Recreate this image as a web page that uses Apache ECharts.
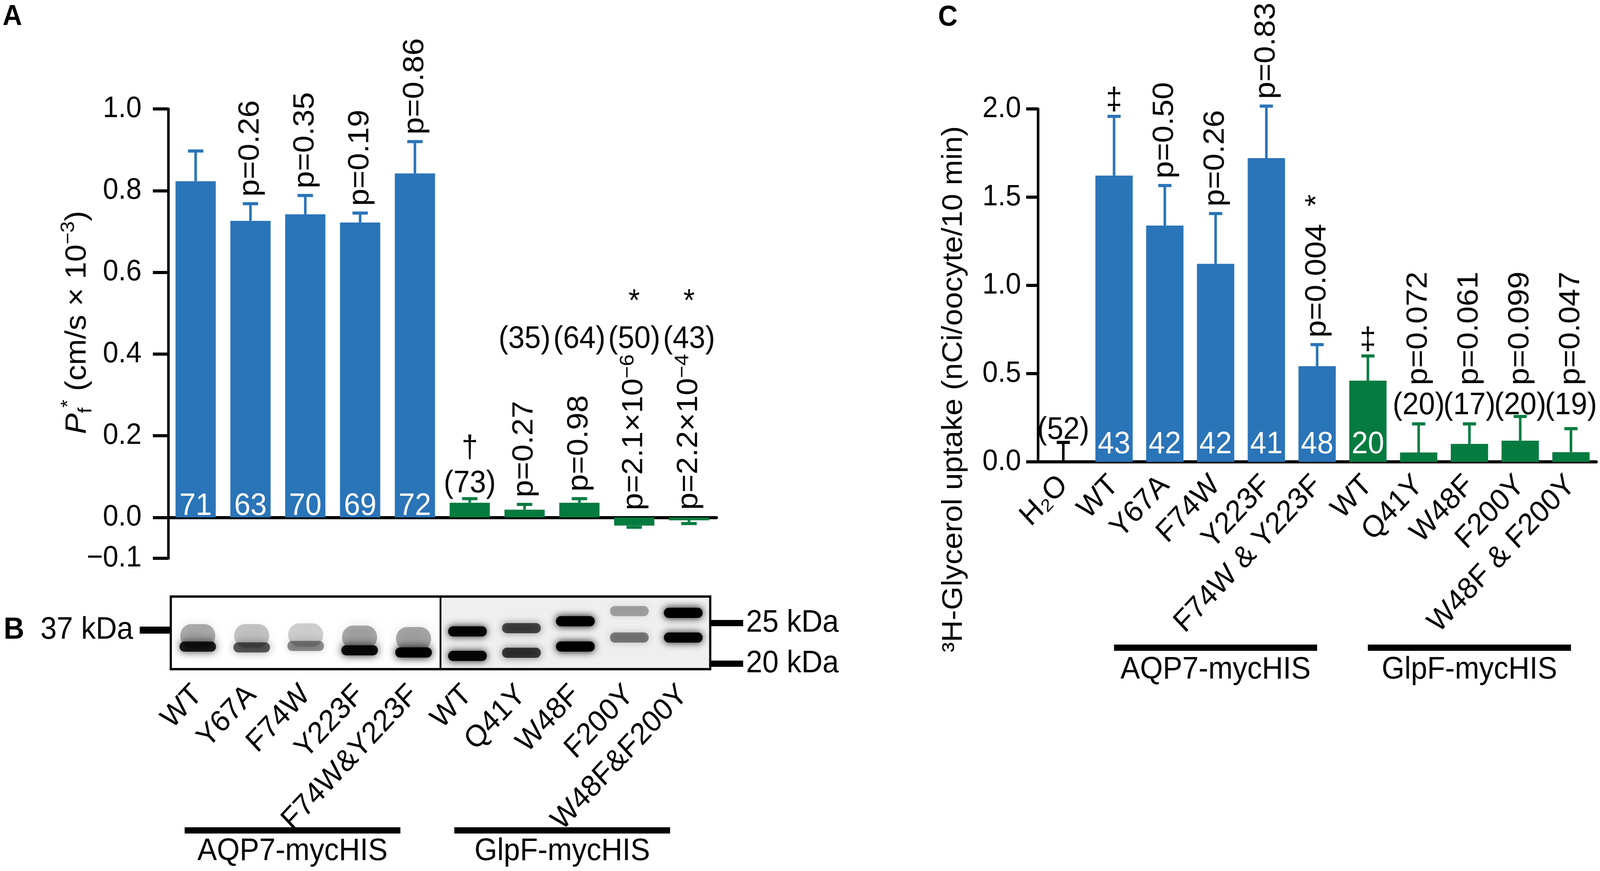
<!DOCTYPE html>
<html>
<head>
<meta charset="utf-8">
<script src="https://cdn.jsdelivr.net/npm/echarts@6/dist/echarts.min.js"></script>
<style>
html,body{margin:0;padding:0;background:#fff;overflow:hidden}
#c{width:4375px;height:2231px;transform-origin:0 0}
</style>
</head>
<body>
<div id="c"></div>
<script>
// ---------------- Panel A : osmotic water permeability ----------------
const catsA  = ['WT','Y67A','F74W','Y223F','F74W&Y223F','WT','Q41Y','W48F','F200Y','W48F&F200Y'];
const groupA = ['AQP7','AQP7','AQP7','AQP7','AQP7','GlpF','GlpF','GlpF','GlpF','GlpF'];
const meanA  = [0.823, 0.726, 0.742, 0.722, 0.842, 0.036, 0.019, 0.036, -0.020, -0.007];
const semA   = [0.074, 0.042, 0.046, 0.023, 0.078, 0.010, 0.013, 0.010, 0.004, 0.008];
const nA     = [71, 63, 70, 69, 72, 73, 35, 64, 50, 43];
const pA     = ['', 'p=0.26', 'p=0.35', 'p=0.19', 'p=0.86', '', 'p=0.27', 'p=0.98', 'p=2.1×10^−6', 'p=2.2×10^−4'];
const markA  = ['', '', '', '', '', '†', '', '', '*', '*'];
const yTicksA = [-0.1, 0, 0.2, 0.4, 0.6, 0.8, 1.0];

// ---------------- Panel B : western blot ----------------
const bandLane = [0,1,2,3,4, 0,1,2,3,4, 5,6,7,8,9, 5,6,7,8,9];
const bandKind = ['smear','smear','smear','smear','smear','main','main','main','main','main',
                  'band','band','band','band','band','band','band','band','band','band'];
const bandPos  = [46,46,47,44,42, 31,30,32,26,23, 52,56.5,66,80,77.5, 18.3,22.6,31.2,43.5,43.5];
const bandInt  = [0.30,0.22,0.18,0.32,0.32, 0.85,0.6,0.42,0.92,1.0, 0.95,0.65,1.0,0.3,1.0, 0.95,0.7,1.0,0.45,0.95];
const markerLeftPos  = [53.8];
const markerLeftText = ['37 kDa'];
const markerRightPos  = [63.4, 7.5];
const markerRightText = ['25 kDa', '20 kDa'];
const groupNames = ['AQP7-mycHIS', 'GlpF-mycHIS'];
const groupSpans = [[0, 4], [5, 9]];

// ---------------- Panel C : glycerol uptake ----------------
const catsC  = ['H₂O','WT','Y67A','F74W','Y223F','F74W & Y223F','WT','Q41Y','W48F','F200Y','W48F & F200Y'];
const groupC = ['H2O','AQP7','AQP7','AQP7','AQP7','AQP7','GlpF','GlpF','GlpF','GlpF','GlpF'];
const meanC  = [0.004, 1.622, 1.339, 1.122, 1.721, 0.542, 0.460, 0.053, 0.102, 0.120, 0.055];
const semC   = [0.106, 0.336, 0.227, 0.285, 0.295, 0.122, 0.140, 0.162, 0.113, 0.137, 0.133];
const nC     = [52, 43, 42, 42, 41, 48, 20, 20, 17, 20, 19];
const pC     = ['', '', 'p=0.50', 'p=0.26', 'p=0.83', 'p=0.004  *', '', 'p=0.072', 'p=0.061', 'p=0.099', 'p=0.047'];
const markC  = ['', '‡', '', '', '', '', '‡', '', '', '', ''];
const groupSpansC = [[1, 5], [6, 10]];

// ---------------- styling / layout constants ----------------
const W = 4375, H = 2231;
const FONT = "'Liberation Sans', Arial, Helvetica, 'DejaVu Sans', sans-serif";
const COLORS = { AQP7: '#2A74B8', GlpF: '#067B40', H2O: '#000000' };
const FS = 80;
const GAP = 18;
const INSIDE_MIN = 0.3;
const COUNT_LEVEL_A = 0.436, MARK_LEVEL_A = 0.527;
const COUNT_LEVEL_C = 0.318, P_LEVEL_C = 0.434;
const BAND_SIZE = { smear: { w: 96, h: 60, blur: 30 }, main: { w: 100, h: 26, blur: 22 }, band: { w: 106, h: 26, blur: 20 } };

// fit the 4375 x 2231 figure into whatever viewport the browser really has
(function () {
  const el = document.getElementById('c');
  const sx = (window.innerWidth || W) / W, sy = (window.innerHeight || H) / H;
  el.style.transform = 'scale(' + sx + ',' + sy + ')';
})();

function richText(text) {
  if (text.indexOf('^') < 0) return { text: text, rich: null };
  const parts = text.split('^');
  return { text: '{n|' + parts[0] + '}{u|' + parts[1] + '}', rich: {
    n: { fontSize: FS, fontFamily: FONT, lineHeight: 88 },
    u: { fontSize: 54, fontFamily: FONT, verticalAlign: 'top', lineHeight: 56 }
  }};
}

function txt(text, x, y, o) {
  o = o || {};
  const r = richText(text);
  const style = { text: r.text, fill: o.color || '#000', fontSize: o.size || FS, fontFamily: FONT,
                  fontWeight: o.weight || 'normal', align: o.align || 'center', verticalAlign: o.va || 'middle' };
  if (r.rich) style.rich = r.rich;
  return { type: 'text', x: x, y: y, rotation: o.rot || 0, z2: 20, style: style };
}

function errRender(groups, capW) {
  return function (params, api) {
    const i = api.value(0), m = api.value(1), s = api.value(2);
    const end = m >= 0 ? m + s : m - s;
    const p0 = api.coord([i, m]), p1 = api.coord([i, end]);
    const c = COLORS[groups[i]];
    return { type: 'group', children: [
      { type: 'line', shape: { x1: p0[0], y1: p0[1], x2: p1[0], y2: p1[1] }, style: { stroke: c, lineWidth: 7 } },
      { type: 'line', shape: { x1: p1[0] - capW / 2, y1: p1[1], x2: p1[0] + capW / 2, y2: p1[1] }, style: { stroke: c, lineWidth: 8 } }
    ]};
  };
}

function renderAnnA(params, api) {
  const i = api.value(0);
  const m = meanA[i], s = semA[i];
  const c0 = api.coord([i, 0]);
  const cx = c0[0], y0 = c0[1];
  const yBase = Math.min(api.coord([i, m + s])[1], y0);
  const kids = [];
  if (m > INSIDE_MIN) kids.push(txt(String(nA[i]), cx, y0 + 12, { color: '#fff', va: 'bottom' }));
  if (pA[i]) kids.push(txt(pA[i], cx, yBase - GAP, { rot: Math.PI / 2, align: 'left' }));
  if (m <= INSIDE_MIN) {
    if (pA[i]) {
      kids.push(txt('(' + nA[i] + ')', cx, api.coord([i, COUNT_LEVEL_A])[1]));
      if (markA[i]) kids.push(txt(markA[i], cx, api.coord([i, MARK_LEVEL_A])[1]));
    } else {
      kids.push(txt('(' + nA[i] + ')', cx, yBase + 2, { va: 'bottom' }));
      if (markA[i]) kids.push(txt(markA[i], cx, yBase - 88, { va: 'bottom' }));
    }
  }
  return { type: 'group', children: kids };
}

function renderAnnC(params, api) {
  const i = api.value(0);
  const m = meanC[i], s = semC[i];
  const c0 = api.coord([i, 0]);
  const cx = c0[0], y0 = c0[1];
  const yBase = Math.min(api.coord([i, m + s])[1], y0);
  const kids = [];
  if (m > INSIDE_MIN) {
    kids.push(txt(String(nC[i]), cx, y0 - 4, { color: '#fff', va: 'bottom' }));
    if (pC[i]) kids.push(txt(pC[i], cx, yBase - GAP, { rot: Math.PI / 2, align: 'left' }));
    if (markC[i]) kids.push(txt(markC[i], cx, yBase, { va: 'bottom' }));
  } else if (pC[i]) {
    kids.push(txt('(' + nC[i] + ')', cx, api.coord([i, COUNT_LEVEL_C])[1]));
    kids.push(txt(pC[i], cx, api.coord([i, P_LEVEL_C])[1], { rot: Math.PI / 2, align: 'left' }));
  } else {
    kids.push(txt('(' + nC[i] + ')', cx, yBase + 9, { va: 'bottom' }));
  }
  return { type: 'group', children: kids };
}

function groupRender(spans, dx, lineDy, textDy, useZero) {
  return function (params, api) {
    const g = api.value(0);
    const cs = params.coordSys;
    const base = useZero ? api.coord([0, 0])[1] : cs.y + cs.height;
    const x1 = api.coord([spans[g][0], 0])[0] + dx;
    const x2 = api.coord([spans[g][1], 0])[0] + dx;
    return { type: 'group', children: [
      { type: 'rect', shape: { x: x1, y: base + lineDy - 8, width: x2 - x1, height: 16 }, style: { fill: '#000' } },
      txt(groupNames[g], (x1 + x2) / 2, base + textDy)
    ]};
  };
}

function renderBlotBase(params, api) {
  const cs = params.coordSys;
  const xa = api.coord([4, 50])[0], xb = api.coord([5, 50])[0];
  const xm = (xa + xb) / 2;
  return { type: 'group', children: [
    { type: 'rect', shape: { x: xm, y: cs.y + 3, width: cs.x + cs.width - xm - 3, height: cs.height - 6 }, style: { fill: '#efefef' } },
    { type: 'line', shape: { x1: xm, y1: cs.y, x2: xm, y2: cs.y + cs.height }, style: { stroke: '#000', lineWidth: 5 } }
  ]};
}

function renderBand(params, api) {
  const lane = api.value(0), pos = api.value(1), a = api.value(2);
  const k = BAND_SIZE[bandKind[params.dataIndex]];
  const p = api.coord([lane, pos]);
  const col = 'rgba(0,0,0,' + a + ')';
  return { type: 'rect', shape: { x: p[0] - k.w / 2, y: p[1] - k.h / 2, width: k.w, height: k.h, r: k.h / 2 },
           style: { fill: col, shadowBlur: k.blur, shadowColor: col } };
}

const chart = echarts.init(document.getElementById('c'), null, { width: W, height: H });

const tickLabelStyle = { color: '#000', fontFamily: FONT, fontSize: 76 };

chart.setOption({
  animation: false,
  backgroundColor: '#fff',
  textStyle: { fontFamily: FONT, color: '#000' },
  grid: [
    { left: 460, top: 279, width: 1499, height: 1151, outerBoundsMode: 'none', containLabel: false },
    { left: 2838, top: 279, width: 1527, height: 904, outerBoundsMode: 'none', containLabel: false },
    { left: 467, top: 1528, width: 1475, height: 186, show: true, borderColor: '#000', borderWidth: 6,
      backgroundColor: '#fff', outerBoundsMode: 'none', containLabel: false }
  ],
  xAxis: [
    { gridIndex: 0, type: 'category', data: catsA,
      axisLine: { onZero: true, lineStyle: { color: '#000', width: 8 } },
      axisTick: { show: false }, axisLabel: { show: false }, splitLine: { show: false } },
    { gridIndex: 1, type: 'category', data: catsC,
      axisLine: { onZero: true, lineStyle: { color: '#000', width: 8 } },
      axisTick: { show: false },
      axisLabel: Object.assign({ rotate: 45, margin: 48, interval: 0 }, tickLabelStyle, { fontSize: 78 }),
      splitLine: { show: false } },
    { gridIndex: 2, type: 'category', data: catsA,
      axisLine: { show: false }, axisTick: { show: false },
      axisLabel: Object.assign({ rotate: 45, margin: 54, interval: 0 }, tickLabelStyle, { fontSize: 78 }),
      splitLine: { show: false } }
  ],
  yAxis: [
    { gridIndex: 0, type: 'value', min: -0.1, max: 1.0,
      axisLine: { show: true, lineStyle: { color: '#000', width: 7 } },
      axisTick: { show: true, customValues: yTicksA, length: 42, lineStyle: { color: '#000', width: 8 } },
      axisLabel: Object.assign({ customValues: yTicksA, margin: 73,
        formatter: v => (v < 0 ? '−' + Math.abs(v).toFixed(1) : v.toFixed(1)) }, tickLabelStyle),
      splitLine: { show: false } },
    { gridIndex: 1, type: 'value', min: 0, max: 2.0, interval: 0.5,
      axisLine: { show: true, lineStyle: { color: '#000', width: 7 } },
      axisTick: { show: true, length: 32, lineStyle: { color: '#000', width: 8 } },
      axisLabel: Object.assign({ margin: 46, formatter: v => v.toFixed(1) }, tickLabelStyle),
      splitLine: { show: false } },
    { gridIndex: 2, type: 'value', min: 0, max: 100, position: 'left',
      axisLine: { show: false },
      axisTick: { show: true, customValues: markerLeftPos, length: 85, lineStyle: { color: '#000', width: 18 } },
      axisLabel: Object.assign({ customValues: markerLeftPos, margin: 103,
        formatter: v => markerLeftText[markerLeftPos.findIndex(q => Math.abs(q - v) < 1e-6)] || '' }, tickLabelStyle, { fontSize: 80 }),
      splitLine: { show: false } },
    { gridIndex: 2, type: 'value', min: 0, max: 100, position: 'right',
      axisLine: { show: false },
      axisTick: { show: true, customValues: markerRightPos, length: 90, lineStyle: { color: '#000', width: 16 } },
      axisLabel: Object.assign({ customValues: markerRightPos, margin: 98,
        formatter: v => markerRightText[markerRightPos.findIndex(q => Math.abs(q - v) < 1e-6)] || '' }, tickLabelStyle, { fontSize: 80 }),
      splitLine: { show: false } }
  ],
  series: [
    // Panel A
    { type: 'custom', xAxisIndex: 0, yAxisIndex: 0, z: 1,
      data: catsA.map((c, i) => [i, meanA[i], semA[i]]), renderItem: errRender(groupA, 42) },
    { type: 'bar', xAxisIndex: 0, yAxisIndex: 0, barWidth: 110, z: 2,
      data: meanA.map((v, i) => ({ value: v, itemStyle: { color: COLORS[groupA[i]] } })) },
    { type: 'custom', xAxisIndex: 0, yAxisIndex: 0, z: 5,
      data: catsA.map((c, i) => [i, meanA[i]]), renderItem: renderAnnA },
    // Panel C
    { type: 'custom', xAxisIndex: 1, yAxisIndex: 1, z: 1,
      data: catsC.map((c, i) => [i, meanC[i], semC[i]]), renderItem: errRender(groupC, 36) },
    { type: 'bar', xAxisIndex: 1, yAxisIndex: 1, barWidth: 102, z: 2,
      data: meanC.map((v, i) => ({ value: v, itemStyle: { color: COLORS[groupC[i]] } })) },
    { type: 'custom', xAxisIndex: 1, yAxisIndex: 1, z: 5,
      data: catsC.map((c, i) => [i, meanC[i]]), renderItem: renderAnnC },
    { type: 'custom', xAxisIndex: 1, yAxisIndex: 1, z: 5,
      data: groupSpansC.map((s, g) => [g, 0]), renderItem: groupRender(groupSpansC, 0, 476, 533, true) },
    // Panel B
    { type: 'custom', xAxisIndex: 2, yAxisIndex: 2, z: 1,
      data: [[0, 50]], renderItem: renderBlotBase },
    { type: 'custom', xAxisIndex: 2, yAxisIndex: 2, z: 2,
      data: bandLane.map((l, i) => [l, bandPos[i], bandInt[i]]), renderItem: renderBand },
    { type: 'custom', xAxisIndex: 2, yAxisIndex: 2, z: 5,
      data: groupSpans.map((s, g) => [g, 0]), renderItem: groupRender(groupSpans, -36, 413, 467, false) }
  ],
  graphic: [
    { type: 'text', x: 7, y: 44, style: { text: 'A', fontSize: 74, fontWeight: 'bold', fontFamily: FONT, fill: '#000', align: 'left', verticalAlign: 'middle' } },
    { type: 'text', x: 10, y: 1614, style: { text: 'B', fontSize: 78, fontWeight: 'bold', fontFamily: FONT, fill: '#000', align: 'left', verticalAlign: 'middle' } },
    { type: 'text', x: 2565, y: 46, style: { text: 'C', fontSize: 74, fontWeight: 'bold', fontFamily: FONT, fill: '#000', align: 'left', verticalAlign: 'middle' } },
    { type: 'text', x: 212, y: 826, rotation: Math.PI / 2,
      style: { text: '{i|P}{s|f}{u|*}{n| (cm/s × 10}{u|−3}{n|)}', align: 'center', verticalAlign: 'middle', fill: '#000',
        rich: {
          i: { fontSize: 80, fontStyle: 'italic', fontFamily: FONT, lineHeight: 100 },
          s: { fontSize: 52, fontFamily: FONT, verticalAlign: 'bottom', lineHeight: 60 },
          u: { fontSize: 52, fontFamily: FONT, verticalAlign: 'top', lineHeight: 56 },
          n: { fontSize: 80, fontFamily: FONT, lineHeight: 100 }
        } } },
    { type: 'text', x: 2608, y: 997, rotation: Math.PI / 2,
      style: { text: '³H-Glycerol uptake (nCi/oocyte/10 min)', fontSize: 78, fontFamily: FONT, fill: '#000', align: 'center', verticalAlign: 'middle' } }
  ]
});
</script>
</body>
</html>
